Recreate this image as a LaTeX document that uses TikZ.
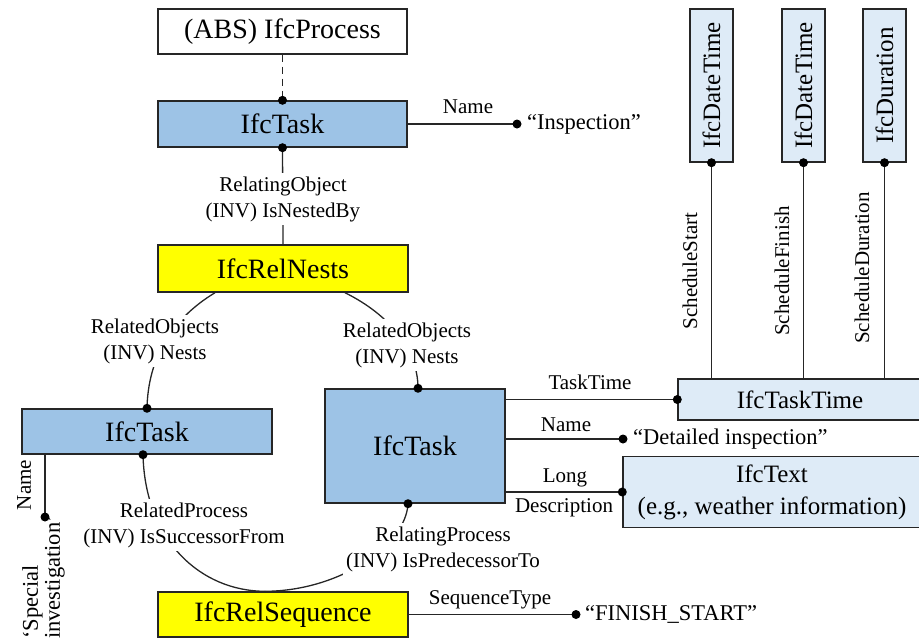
\documentclass[tikz,border=0pt]{standalone}
\usepackage{fontspec}
\setmainfont{Liberation Serif}
\usetikzlibrary{calc}
\definecolor{taskblue}{HTML}{9DC3E6}
\definecolor{paleblue}{HTML}{DEEBF7}
\definecolor{relyellow}{HTML}{FFFF00}
\tikzset{
  ent/.style={draw=black!85, line width=1.4pt, inner sep=0pt, font=\fontsize{28}{32}\selectfont},
  entmid/.style={ent, font=\fontsize{25}{32}\selectfont},
  conn/.style={draw=black!85, line width=1.3pt},
  lbl/.style={font=\fontsize{21}{26}\selectfont, align=center, inner sep=1pt},
  mask/.style={lbl, fill=white, inner sep=3pt},
  val/.style={font=\fontsize{22.5}{26}\selectfont, inner sep=0pt},
  dot/.style={circle, fill=black, inner sep=0pt, minimum size=9pt}
}
\begin{document}
\begin{tikzpicture}[x=1pt, y=-1pt]
\useasboundingbox (0,0) rectangle (919,641);
\clip (0,0) rectangle (919,641);

% entities
\node[ent, fill=white, minimum width=249pt, minimum height=45pt] (abs) at (282.5,31.5) {(ABS) IfcProcess};
\node[ent, fill=taskblue, minimum width=249pt, minimum height=46pt] (task1) at (282.5,124) {IfcTask};
\node[ent, fill=relyellow, minimum width=250pt, minimum height=47pt] (nests) at (283,268.5) {IfcRelNests};
\node[ent, fill=taskblue, minimum width=250pt, minimum height=45pt] (task2) at (147,431.5) {IfcTask};
\node[ent, fill=taskblue, minimum width=180pt, minimum height=114pt] (task3) at (415,446) {IfcTask};
\node[ent, fill=relyellow, minimum width=250pt, minimum height=45pt] (seq) at (283,614.5) {IfcRelSequence};
\node[entmid, fill=paleblue, minimum width=244pt, minimum height=41pt] (ttime) at (800,399.5) {IfcTaskTime};
\node[entmid, fill=paleblue, minimum width=298pt, minimum height=71pt, align=center] (itext) at (772,492) {IfcText\\(e.g., weather information)};
\node[entmid, fill=paleblue, rotate=90, minimum width=153pt, minimum height=43pt] (dt1) at (711.5,85.5) {IfcDateTime};
\node[entmid, fill=paleblue, rotate=90, minimum width=153pt, minimum height=43pt] (dt2) at (803.5,85.5) {IfcDateTime};
\node[entmid, fill=paleblue, rotate=90, minimum width=153pt, minimum height=43pt] (dur) at (884.5,85.5) {IfcDuration};

% free ends of attribute links
\coordinate (inspEnd) at (517,124);
\coordinate (detEnd) at (623,439);
\coordinate (spEnd) at (45,517);
\coordinate (finEnd) at (576,614.5);

% connectors
\draw[conn, dash pattern=on 7pt off 5pt] (abs.south) -- (task1.north);
\draw[conn] (task1.south) -- (nests.north);
\draw[conn] (task1.east) -- (inspEnd);
\draw[conn] ([xshift=-68pt]nests.south) .. controls (170,320) and (148,360) .. (task2.north);
\draw[conn] ([xshift=62pt]nests.south) .. controls (390,315) and (418,350) .. ([xshift=3pt]task3.north);
\draw[conn] ([xshift=-4pt]task2.south) .. controls (145,540) and (200,591) .. ([xshift=-18pt]seq.north);
\draw[conn] ([xshift=-18pt]seq.north) .. controls (340,591) and (406,545) .. ([xshift=-7pt]task3.south);
\draw[conn] (task3.east |- ttime.west) -- (ttime.west);
\draw[conn] (task3.east |- detEnd) -- (detEnd);
\draw[conn] (task3.east |- itext.west) -- (itext.west);
\draw[conn] (dt1.west) -- (dt1.west |- ttime.north);
\draw[conn] (dt2.west) -- (dt2.west |- ttime.north);
\draw[conn] (dur.west) -- (dur.west |- ttime.north);
\draw[conn] (task2.south -| spEnd) -- (spEnd);
\draw[conn] (seq.east) -- (finEnd);

% role labels
\node[mask] (lRelObj) at (283,199) {RelatingObject\\(INV) IsNestedBy};
\node[mask] (lNestL) at (155,341) {RelatedObjects\\(INV) Nests};
\node[mask] (lNestR) at (407,345) {RelatedObjects\\(INV) Nests};
\node[mask] (lSucc) at (184,525) {RelatedProcess\\(INV) IsSuccessorFrom};
\node[mask] (lPred) at (443,549) {RelatingProcess\\(INV) IsPredecessorTo};
\node[lbl] (lName1) at (468,107) {Name};
\node[lbl] (lTime) at (590,382) {TaskTime};
\node[lbl] (lName2) at (566,425) {Name};
\node[lbl] (lLong) at (565,478) {Long};
\node[lbl] (lDesc) at (564,508) {Description};
\node[lbl] (lSeqType) at (490,600) {SequenceType};
\node[lbl, rotate=90] (lStart) at (690,271) {ScheduleStart};
\node[lbl, rotate=90] (lFinish) at (782,271) {ScheduleFinish};
\node[lbl, rotate=90] (lDur) at (862,268) {ScheduleDuration};
\node[lbl, rotate=90] (lName3) at (24,485) {Name};

% attribute values
\node[val, anchor=west] (vInsp) at ([xshift=10pt]inspEnd) {“Inspection”};
\node[val, anchor=west] (vDet) at ([xshift=10pt]detEnd) {“Detailed inspection”};
\node[val, anchor=west] (vFin) at ([xshift=9pt]finEnd) {“FINISH\_START”};
\node[val, rotate=90, anchor=north west, align=left, font=\fontsize{22.5}{22}\selectfont] (vSpec) at (22,639) {‘Special\\investigation’};

% link end points
\node[dot] (k1) at (task1.north) {};
\node[dot] (k2) at (task1.south) {};
\node[dot] (k3) at (inspEnd) {};
\node[dot] (k4) at (task2.north) {};
\node[dot] (k5) at ([xshift=3pt]task3.north) {};
\node[dot] (k6) at ([xshift=-4pt]task2.south) {};
\node[dot] (k7) at ([xshift=-7pt]task3.south) {};
\node[dot] (k8) at (ttime.west) {};
\node[dot] (k9) at (detEnd) {};
\node[dot] (k10) at (itext.west) {};
\node[dot] (k11) at (dt1.west) {};
\node[dot] (k12) at (dt2.west) {};
\node[dot] (k13) at (dur.west) {};
\node[dot] (k14) at (spEnd) {};
\node[dot] (k15) at (finEnd) {};
\end{tikzpicture}
\end{document}
